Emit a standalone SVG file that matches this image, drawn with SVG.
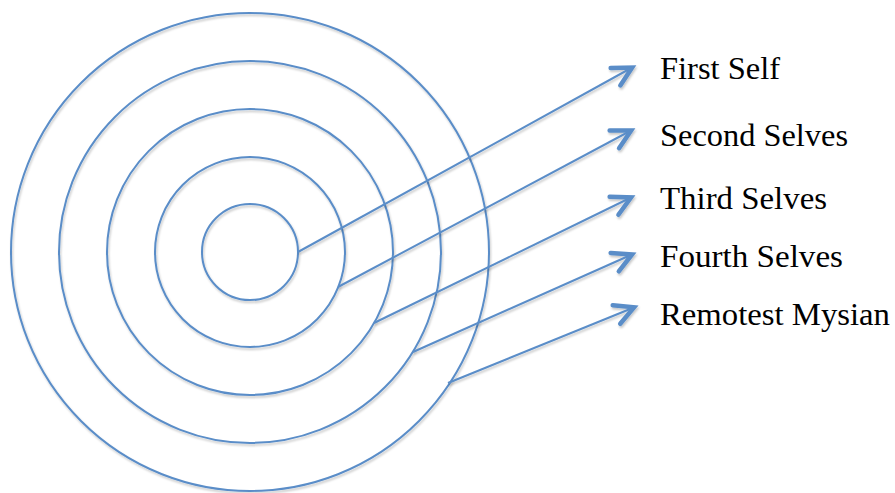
<svg xmlns="http://www.w3.org/2000/svg" width="895" height="493" viewBox="0 0 895 493">
  <defs>
    <filter id="sh" x="-10%" y="-10%" width="120%" height="120%">
      <feDropShadow dx="1" dy="2" stdDeviation="1" flood-color="#000" flood-opacity="0.22"/>
    </filter>
    <marker id="arr" markerUnits="userSpaceOnUse" viewBox="-24 -14 30 28" markerWidth="30" markerHeight="28" refX="1" refY="0" orient="auto">
      <path d="M-19,-10 L0,0 L-19,10" fill="none" stroke="#5A8DC8" stroke-width="4.5" stroke-linejoin="miter" stroke-linecap="round"/>
    </marker>
    <style>
      .ring { fill: none; stroke: #5A8DC8; stroke-width: 2; }
      .conn { fill: none; stroke: #5A8DC8; stroke-width: 2; marker-end: url(#arr); }
      .lbl { font-family: "Liberation Serif", "DejaVu Serif", serif; font-size: 31px; fill: #000; }
    </style>
  </defs>
  <rect width="895" height="493" fill="#fff"/>
  <g id="rings" filter="url(#sh)">
    <g id="ring-remotest"><circle class="ring" cx="250" cy="252" r="239"/></g>
    <g id="ring-fourth"><circle class="ring" cx="250" cy="252" r="191"/></g>
    <g id="ring-third"><circle class="ring" cx="250" cy="252" r="143"/></g>
    <g id="ring-second"><circle class="ring" cx="250" cy="252" r="95"/></g>
    <g id="ring-first"><circle class="ring" cx="250" cy="252" r="48"/></g>
  </g>
  <g id="connectors" filter="url(#sh)">
    <line class="conn" x1="298" y1="252" x2="633" y2="67"/>
    <line class="conn" x1="338" y1="287" x2="632" y2="130"/>
    <line class="conn" x1="374" y1="323" x2="632" y2="197"/>
    <line class="conn" x1="413" y1="352" x2="633" y2="254"/>
    <line class="conn" x1="448" y1="383" x2="635" y2="307"/>
  </g>
  <g id="label-first"><text class="lbl" x="660" y="79" textLength="120" lengthAdjust="spacingAndGlyphs">First Self</text></g>
  <g id="label-second"><text class="lbl" x="660" y="146" textLength="188" lengthAdjust="spacingAndGlyphs">Second Selves</text></g>
  <g id="label-third"><text class="lbl" x="660" y="209" textLength="167" lengthAdjust="spacingAndGlyphs">Third Selves</text></g>
  <g id="label-fourth"><text class="lbl" x="660" y="267" textLength="183" lengthAdjust="spacingAndGlyphs">Fourth Selves</text></g>
  <g id="label-remotest"><text class="lbl" x="660" y="325" textLength="230" lengthAdjust="spacingAndGlyphs">Remotest Mysian</text></g>
</svg>
